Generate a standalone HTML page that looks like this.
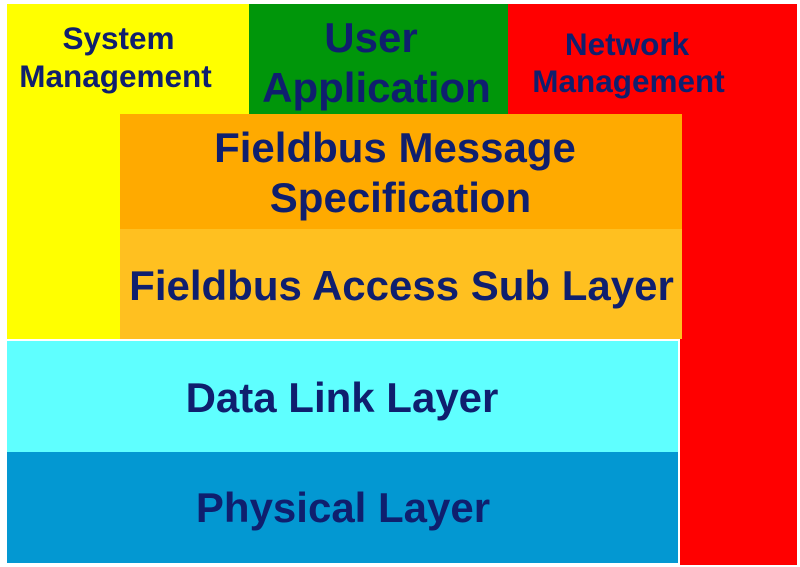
<!DOCTYPE html>
<html>
<head>
<meta charset="utf-8">
<style>
  html, body { margin:0; padding:0; background:#ffffff; }
  body { width:800px; height:567px; overflow:hidden; position:relative; }
  svg { position:absolute; left:0; top:0; }
  text { font-family:"Liberation Sans", Arial, sans-serif; font-weight:bold; fill:#0f1f6e; text-anchor:middle; }
</style>
</head>
<body>
<svg width="800" height="567" viewBox="0 0 800 567" xmlns="http://www.w3.org/2000/svg">
  <rect x="0" y="0" width="800" height="567" fill="#ffffff"/>
  <!-- Network Management (red) -->
  <rect x="508" y="4" width="289" height="561" fill="#ff0000"/>
  <!-- System Management (yellow) -->
  <rect x="7" y="4" width="242" height="335" fill="#ffff00"/>
  <!-- User Application (green) -->
  <rect x="249" y="4" width="259" height="110" fill="#00960a"/>
  <!-- Fieldbus Message Specification -->
  <rect x="120" y="114" width="562" height="115" fill="#ffaa00"/>
  <!-- Fieldbus Access Sub Layer -->
  <rect x="120" y="229" width="562" height="110" fill="#ffc020"/>
  <!-- white gap lines -->
  <rect x="7" y="339" width="673" height="2" fill="#ffffff"/>
  <rect x="678" y="339" width="2" height="228" fill="#ffffff"/>
  <rect x="0" y="563" width="680" height="4" fill="#ffffff"/>
  <!-- Data Link Layer -->
  <rect x="7" y="341" width="671" height="111" fill="#5fffff"/>
  <!-- Physical Layer -->
  <rect x="7" y="452" width="671" height="111" fill="#0398d2"/>

  <text x="118.5" y="49" font-size="31.5">System</text>
  <text x="115.5" y="87" font-size="31.5">Management</text>

  <text x="371" y="52" font-size="42">User</text>
  <text x="376.5" y="102" font-size="42">Application</text>

  <text x="627" y="55" font-size="31.5">Network</text>
  <text x="628.5" y="92" font-size="31.5">Management</text>

  <text x="395" y="162" font-size="42">Fieldbus Message</text>
  <text x="400.5" y="212" font-size="42">Specification</text>

  <text x="401.5" y="300" font-size="42">Fieldbus Access Sub Layer</text>

  <text x="342" y="412" font-size="42">Data Link Layer</text>

  <text x="343" y="522" font-size="42">Physical Layer</text>
</svg>
</body>
</html>
